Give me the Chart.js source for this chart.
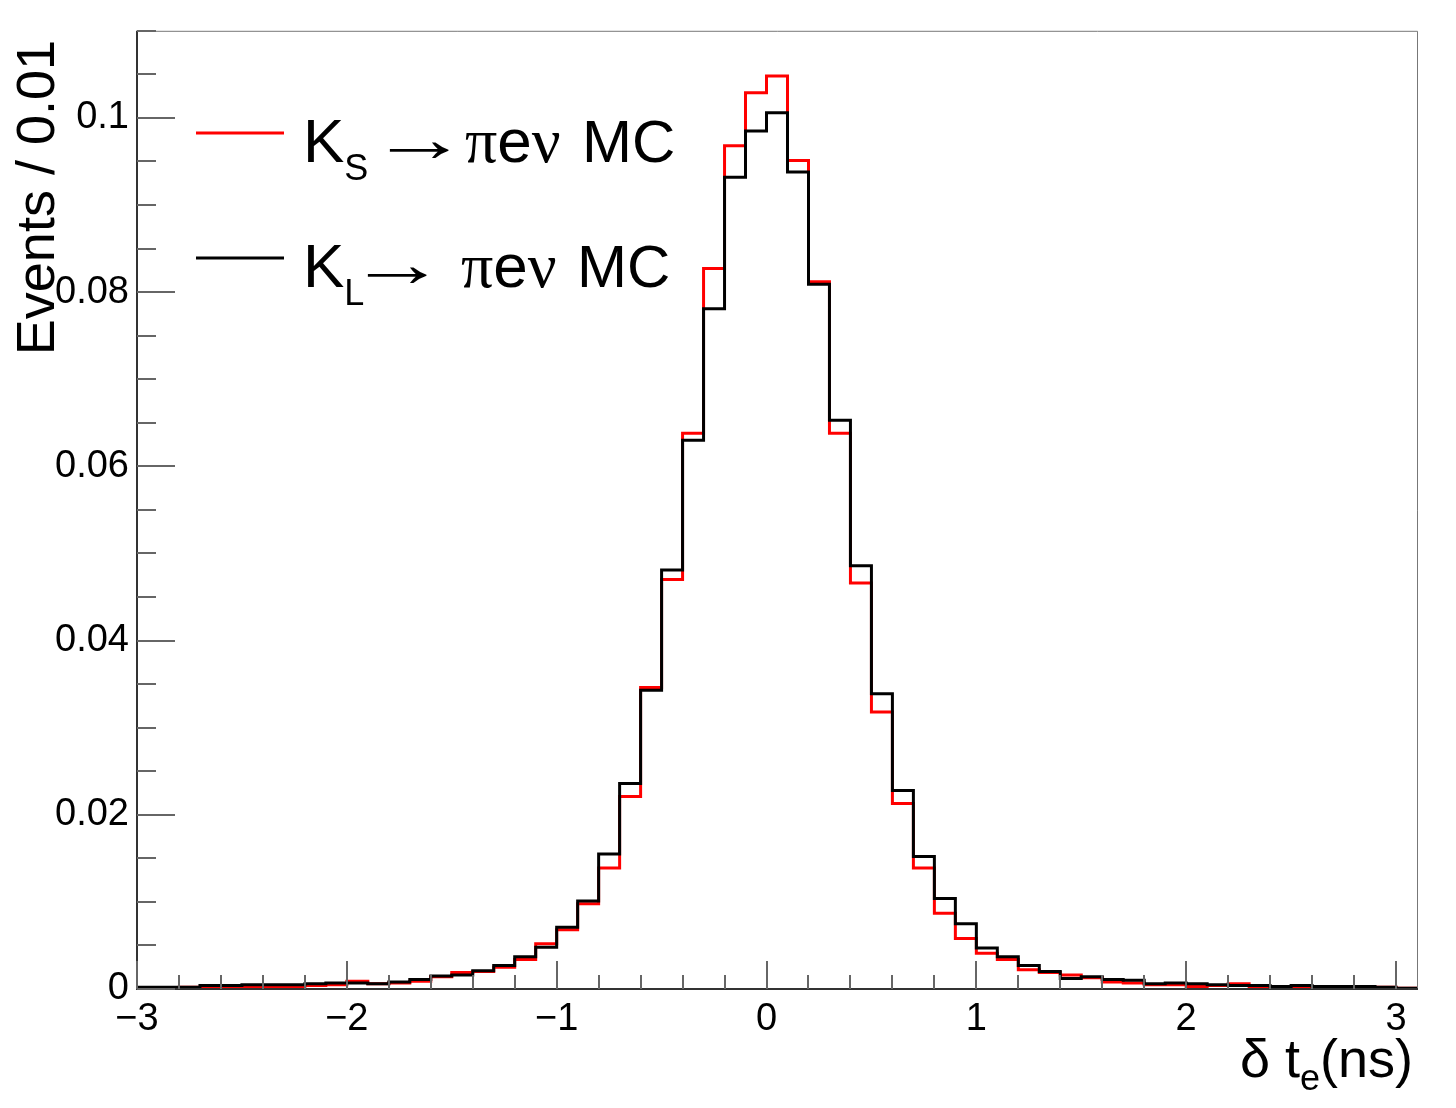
<!DOCTYPE html>
<html>
<head>
<meta charset="utf-8">
<script src="https://cdn.jsdelivr.net/npm/chart.js@4.4.1/dist/chart.umd.min.js"></script>
<style>
  html, body { margin: 0; padding: 0; background: #fff; }
  #c { display: block; }
</style>
</head>
<body>
<canvas id="c" width="1456" height="1108"></canvas>
<script>
// lower edge of each 0.1 ns bin, last bin closes at binUpperEnd
const binLowEdges = [
  -3.0, -2.9, -2.8, -2.7, -2.6, -2.5, -2.4, -2.3, -2.2, -2.1,
  -2.0, -1.9, -1.8, -1.7, -1.6, -1.5, -1.4, -1.3, -1.2, -1.1,
  -1.0, -0.9, -0.8, -0.7, -0.6, -0.5, -0.4, -0.3, -0.2, -0.1,
   0.0,  0.1,  0.2,  0.3,  0.4,  0.5,  0.6,  0.7,  0.8,  0.9,
   1.0,  1.1,  1.2,  1.3,  1.4,  1.5,  1.6,  1.7,  1.8,  1.9,
   2.0,  2.1,  2.2,  2.3,  2.4,  2.5,  2.6,  2.7,  2.8,  2.9,
   3.0
];
const binUpperEnd = 3.1;

// K_S -> pi e nu MC (red)
const ksValues = [
  0.0001, 0.0001, 0.0002, 0.0002, 0.0003, 0.0003, 0.0003, 0.0003, 0.0004, 0.0005,
  0.0009, 0.0006, 0.0007, 0.0009, 0.0014, 0.0019, 0.0020, 0.0025, 0.0034, 0.0052,
  0.0068, 0.0098, 0.0139, 0.0221, 0.0346, 0.0470, 0.0638, 0.0827, 0.0968, 0.1029,
  0.1048, 0.0951, 0.0812, 0.0638, 0.0466, 0.0318, 0.0213, 0.0139, 0.0087, 0.0058,
  0.0041, 0.0034, 0.0022, 0.0019, 0.0016, 0.0013, 0.0008, 0.0007, 0.0005, 0.0005,
  0.0003, 0.0004, 0.0006, 0.0003, 0.0003, 0.0002, 0.0002, 0.0002, 0.0002, 0.0002,
  0.0001
];

// K_L -> pi e nu MC (black)
const klValues = [
  0.0002, 0.0002, 0.0002, 0.0004, 0.0004, 0.0005, 0.0005, 0.0005, 0.0006, 0.0007,
  0.0007, 0.0006, 0.0008, 0.0011, 0.0015, 0.0016, 0.0021, 0.0027, 0.0037, 0.0048,
  0.0071, 0.0101, 0.0155, 0.0236, 0.0343, 0.0481, 0.0630, 0.0781, 0.0932, 0.0985,
  0.1006, 0.0938, 0.0809, 0.0653, 0.0486, 0.0339, 0.0228, 0.0152, 0.0104, 0.0075,
  0.0047, 0.0037, 0.0027, 0.0020, 0.0012, 0.0014, 0.0011, 0.0010, 0.0006, 0.0007,
  0.0006, 0.0005, 0.0004, 0.0004, 0.0003, 0.0004, 0.0003, 0.0003, 0.0003, 0.0002,
  0.0001
];

const xTickValues = [-3, -2, -1, 0, 1, 2, 3];
const yTickValues = [0, 0.02, 0.04, 0.06, 0.08, 0.1];
const seriesLabels = ['K_S \u2192 \u03c0e\u03bd MC', 'K_L\u2192  \u03c0e\u03bd MC'];

const SANS = '"Liberation Sans", Arial, sans-serif';
const SERIF = '"Liberation Serif", "Times New Roman", serif';

// histogram as step line: one point per lower edge + closing point
function histPoints(values) {
  const pts = binLowEdges.map((x, i) => ({ x: x, y: values[i] }));
  pts.push({ x: binUpperEnd, y: values[values.length - 1] });
  return pts;
}

// draw text pieces one after another; sx stretches a piece horizontally
function drawRun(ctx, x, baseline, parts) {
  parts.forEach(p => {
    if (p.x !== undefined) x = p.x;
    const sx = p.sx || 1;
    ctx.font = p.font;
    ctx.save();
    ctx.translate(x, baseline + (p.dy || 0));
    ctx.scale(sx, 1);
    ctx.fillText(p.text, 0, 0);
    ctx.restore();
    x += ctx.measureText(p.text).width * sx;
  });
}

// ROOT-like frame, inside ticks, legend and axis titles
const rootStyle = {
  id: 'rootStyle',
  afterDraw(chart) {
    const { ctx, chartArea: a, scales: { x, y } } = chart;
    ctx.save();

    // frame
    ctx.strokeStyle = '#777';
    ctx.lineWidth = 1;
    ctx.beginPath();
    ctx.moveTo(a.left, a.top + 0.5);
    ctx.lineTo(a.right + 0.5, a.top + 0.5);
    ctx.lineTo(a.right + 0.5, a.bottom);
    ctx.stroke();
    ctx.strokeStyle = '#333';
    ctx.lineWidth = 2;
    ctx.beginPath();
    ctx.moveTo(a.left, a.top);
    ctx.lineTo(a.left, a.bottom);
    ctx.lineTo(a.right + 1, a.bottom);
    ctx.stroke();

    // ticks
    ctx.strokeStyle = '#666';
    ctx.lineWidth = 2;
    ctx.beginPath();
    for (let k = 0; k <= 30; k++) {
      const v = -3 + k * 0.2;
      const major = Math.abs(v - Math.round(v)) < 1e-6;
      const px = Math.round(x.getPixelForValue(v));
      ctx.moveTo(px, a.bottom);
      ctx.lineTo(px, a.bottom - (major ? 28 : 14));
    }
    for (let k = 0; k <= 22; k++) {
      const v = k * 0.005;
      const major = k % 4 === 0;
      const py = Math.round(y.getPixelForValue(v));
      ctx.moveTo(a.left, py);
      ctx.lineTo(a.left + (major ? 38 : 19), py);
    }
    ctx.stroke();

    // legend
    const rows = [
      { color: 'rgb(255,0,0)', lineY: 133, base: 162, sub: 'S', arrowX: 370, piX: 465, mcX: 582 },
      { color: '#000', lineY: 258, base: 287, sub: 'L', arrowX: 348, piX: 461, mcX: 577 }
    ];
    rows.forEach(r => {
      ctx.strokeStyle = r.color;
      ctx.lineWidth = 3;
      ctx.beginPath();
      ctx.moveTo(196, r.lineY);
      ctx.lineTo(284, r.lineY);
      ctx.stroke();
      ctx.fillStyle = '#000';
      ctx.textAlign = 'left';
      ctx.textBaseline = 'alphabetic';
      drawRun(ctx, 303, r.base, [
        { text: 'K', font: '62px ' + SANS },
        { text: r.sub, font: '36px ' + SANS, dy: 18 },
        { text: '\u2192', font: '66px ' + SERIF, x: r.arrowX, dy: -1, sx: 1.5 },
        { text: '\u03c0', font: '64px ' + SERIF, x: r.piX },
        { text: 'e', font: '62px ' + SANS },
        { text: '\u03bd', font: '64px ' + SERIF },
        { text: 'MC', font: '60px ' + SANS, x: r.mcX }
      ]);
    });

    // y title
    ctx.save();
    ctx.translate(54, 40);
    ctx.rotate(-Math.PI / 2);
    ctx.font = '54px ' + SANS;
    ctx.textAlign = 'right';
    ctx.textBaseline = 'alphabetic';
    ctx.fillStyle = '#000';
    ctx.fillText('Events / 0.01', 0, 0);
    ctx.restore();

    // x title, right aligned
    const xParts = [
      { text: '\u03b4 t', font: '54px ' + SANS, dy: 0 },
      { text: 'e', font: '36px ' + SANS, dy: 13 },
      { text: '(ns)', font: '54px ' + SANS, dy: 0 }
    ];
    let total = 0;
    xParts.forEach(p => { ctx.font = p.font; total += ctx.measureText(p.text).width; });
    drawRun(ctx, 1413 - total, 1077, xParts);

    ctx.restore();
  }
};

Chart.defaults.font.family = SANS;
Chart.defaults.color = '#000';

new Chart(document.getElementById('c'), {
  type: 'line',
  data: {
    datasets: [
      {
        label: seriesLabels[1],
        data: histPoints(klValues),
        borderColor: '#000',
        borderWidth: 3,
        stepped: 'before',
        pointRadius: 0,
        fill: false,
        order: 0
      },
      {
        label: seriesLabels[0],
        data: histPoints(ksValues),
        borderColor: 'rgb(255,0,0)',
        borderWidth: 3,
        stepped: 'before',
        pointRadius: 0,
        fill: false,
        order: 1
      }
    ]
  },
  options: {
    responsive: false,
    animation: false,
    devicePixelRatio: 1,
    layout: { padding: { top: 30, right: 39, left: 0, bottom: 0 } },
    plugins: { legend: { display: false }, tooltip: { enabled: false } },
    scales: {
      x: {
        type: 'linear',
        min: -3,
        max: binUpperEnd,
        grid: { display: false, drawTicks: false },
        border: { display: false },
        ticks: {
          font: { size: 38 },
          color: '#000',
          padding: 8,
          autoSkip: false,
          maxRotation: 0,
          callback: v => (v < 0 ? '\u2212' + Math.abs(v) : String(v))
        },
        afterBuildTicks: s => { s.ticks = xTickValues.map(v => ({ value: v })); },
        afterFit: s => { s.height = 119; }
      },
      y: {
        min: 0,
        max: 0.11,
        grid: { display: false, drawTicks: false },
        border: { display: false },
        ticks: {
          font: { size: 38 },
          color: '#000',
          padding: 8,
          autoSkip: false,
          callback: v => (v === 0 ? '0' : String(+v.toFixed(2)))
        },
        afterBuildTicks: s => { s.ticks = yTickValues.map(v => ({ value: v })); },
        afterFit: s => { s.width = 137; }
      }
    }
  },
  plugins: [rootStyle]
});
</script>
</body>
</html>
